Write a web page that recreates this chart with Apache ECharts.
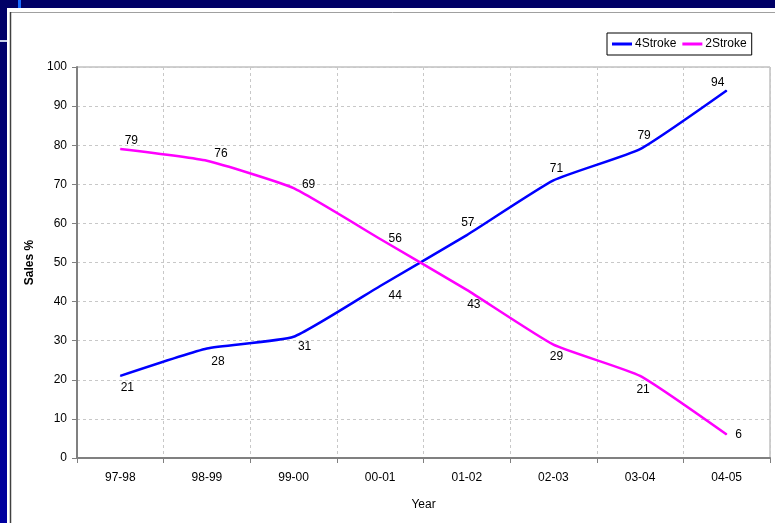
<!DOCTYPE html>
<html>
<head>
<meta charset="utf-8">
<script src="https://cdn.jsdelivr.net/npm/echarts@6/dist/echarts.min.js"></script>
<style>
  html, body { margin: 0; padding: 0; background: #000066; }
  #chart { width: 775px; height: 523px; }
</style>
</head>
<body>
<div id="chart"></div>
<script>
// Sales share by engine type, per financial year
const years = ['97-98', '98-99', '99-00', '00-01', '01-02', '02-03', '03-04', '04-05'];
const fourStroke = [21, 28, 31, 44, 57, 71, 79, 94];
const twoStroke = [79, 76, 69, 56, 43, 29, 21, 6];
const yTicks = { min: 0, max: 100, interval: 10 };

// label nudges (px) relative to each point
const fourStrokeLabelShift = [[7, 12], [11, 13], [11, 10], [15, 10], [1, -12], [3, -12], [4, -13], [-9, -8]];
const twoStrokeLabelShift = [[11, -8], [14, -7], [15, -4], [15, 0], [7, 15], [3, 12], [3, 14], [12, 0]];

const FONT = '"Liberation Sans", Arial, sans-serif';

function points(values, shifts) {
  return values.map((v, i) => ({
    value: v,
    label: { offset: shifts[i] }
  }));
}

function lineSeries(name, values, shifts, color) {
  return {
    name: name,
    type: 'line',
    smooth: 0.15,
    symbol: 'circle',
    symbolSize: 1,
    itemStyle: { color: color },
    lineStyle: { color: color, width: 2.5 },
    label: {
      show: true,
      position: 'inside',
      color: '#000',
      fontFamily: FONT,
      fontSize: 12
    },
    emphasis: { disabled: true },
    data: points(values, shifts)
  };
}

const chart = echarts.init(document.getElementById('chart'), null, { renderer: 'canvas' });

chart.setOption({
  animation: false,
  backgroundColor: '#000066',
  graphic: [
    // lighter navy lower left band
    { type: 'rect', silent: true, z: -10,
      shape: { x: 0, y: 0, width: 8, height: 523 },
      style: { fill: new echarts.graphic.LinearGradient(0, 0, 0, 1, [
        { offset: 0, color: '#000066' }, { offset: 1, color: '#0000a0' }]) } },
    { type: 'rect', silent: true, z: -10,
      shape: { x: 18, y: 0, width: 3, height: 8 }, style: { fill: '#1a6cff' } },
    { type: 'rect', silent: true, z: -10,
      shape: { x: 0, y: 40, width: 7, height: 2 }, style: { fill: '#c8d0e8' } },
    // white slide area
    { type: 'rect', silent: true, z: -9,
      shape: { x: 7, y: 8, width: 768, height: 515 }, style: { fill: '#ffffff' } },
    // chart frame
    { type: 'line', silent: true, z: -8,
      shape: { x1: 10, y1: 12.5, x2: 775, y2: 12.5 }, style: { stroke: '#a0a0a0', lineWidth: 1 } },
    { type: 'line', silent: true, z: -8,
      shape: { x1: 10.5, y1: 12, x2: 10.5, y2: 523 }, style: { stroke: '#404040', lineWidth: 1.5 } }
  ],
  legend: {
    left: 607,
    top: 33,
    orient: 'horizontal',
    padding: [5, 5, 5, 5],
    itemGap: 6,
    itemWidth: 20,
    itemHeight: 3,
    icon: 'rect',
    backgroundColor: '#ffffff',
    borderColor: '#000000',
    borderWidth: 1,
    borderRadius: 0,
    selectedMode: false,
    textStyle: { fontFamily: FONT, fontSize: 12, color: '#000', padding: [0, 0, 0, -2] },
    data: ['4Stroke', '2Stroke']
  },
  grid: {
    left: 77,
    right: 5,
    top: 67,
    bottom: 65,
    show: true,
    borderColor: '#a0a0a0',
    borderWidth: 1,
    backgroundColor: 'transparent'
  },
  xAxis: {
    type: 'category',
    data: years,
    boundaryGap: true,
    name: 'Year',
    nameLocation: 'middle',
    nameGap: 41,
    nameTextStyle: { fontFamily: FONT, fontSize: 12, fontWeight: 'normal', color: '#000' },
    axisLine: { lineStyle: { color: '#808080', width: 2 } },
    axisTick: { show: true, length: 5, lineStyle: { color: '#808080', width: 1 } },
    axisLabel: { fontFamily: FONT, fontSize: 12, color: '#000', margin: 14 },
    splitLine: { show: true, lineStyle: { color: '#c8c8c8', type: [3, 3], width: 1 } }
  },
  yAxis: {
    type: 'value',
    min: yTicks.min,
    max: yTicks.max,
    interval: yTicks.interval,
    name: 'Sales %',
    nameLocation: 'middle',
    nameGap: 39,
    nameRotate: 90,
    nameTextStyle: { fontFamily: FONT, fontSize: 12, fontWeight: 'bold', color: '#000' },
    axisLine: { show: true, lineStyle: { color: '#808080', width: 2 } },
    axisTick: { show: true, length: 5, lineStyle: { color: '#808080', width: 1 } },
    axisLabel: { fontFamily: FONT, fontSize: 12, color: '#000', margin: 10 },
    splitLine: { show: true, lineStyle: { color: '#c8c8c8', type: [3, 3], width: 1 } }
  },
  series: [
    lineSeries('4Stroke', fourStroke, fourStrokeLabelShift, '#0000ff'),
    lineSeries('2Stroke', twoStroke, twoStrokeLabelShift, '#ff00ff')
  ]
});
</script>
</body>
</html>
